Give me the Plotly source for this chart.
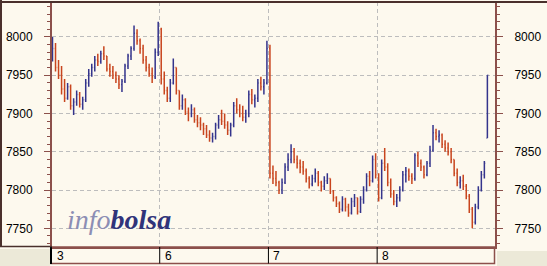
import plotly.graph_objects as go

# ---- data (index values, 36 bars per trading day + closing auction bar) ----
day_labels = ["3", "6", "7", "8"]
bars_per_day = 36

opens = [
    7975, 7985, 7960, 7950, 7932, 7920, 7935, 7910, 7915, 7925, 7912, 7918, 7940, 7952, 7960, 7970, 7968, 7978,
    7975, 7958, 7955, 7950, 7945, 7938, 7942, 7962, 7975, 7985, 8005, 7995, 7985, 7970, 7960, 7952, 7948, 7980,
    8010, 7945, 7930, 7920, 7940, 7960, 7930, 7910, 7918, 7902, 7900, 7905, 7892, 7888, 7885, 7880, 7872, 7868,
    7870, 7885, 7892, 7890, 7885, 7878, 7885, 7910, 7905, 7900, 7895, 7900, 7925, 7918, 7920, 7940, 7935, 7940,
    7985, 7822, 7815, 7810, 7800, 7810, 7830, 7840, 7850, 7840, 7835, 7830, 7825, 7815, 7808, 7815, 7822, 7810,
    7805, 7812, 7815, 7798, 7790, 7782, 7775, 7788, 7778, 7770, 7785, 7790, 7772, 7788, 7800, 7818, 7812, 7840,
    7820, 7790, 7835, 7830, 7810, 7795, 7785, 7790, 7800, 7820, 7825, 7818, 7815, 7845, 7835, 7830, 7820, 7835,
    7852, 7875, 7870, 7872, 7860, 7855, 7850, 7840, 7822, 7810, 7812, 7805, 7792, 7775, 7758, 7778, 7800, 7820,
    7868,
]
highs = [
    8000, 7992, 7970, 7962, 7945, 7940, 7938, 7920, 7930, 7928, 7922, 7945, 7958, 7965, 7975, 7978, 7982, 7988,
    7975, 7965, 7962, 7955, 7950, 7945, 7965, 7978, 7988, 8015, 8010, 7998, 7990, 7975, 7965, 7960, 7985, 8020,
    8012, 7955, 7935, 7945, 7972, 7960, 7930, 7925, 7920, 7908, 7912, 7908, 7898, 7895, 7888, 7885, 7878, 7875,
    7888, 7898, 7905, 7900, 7890, 7888, 7915, 7920, 7912, 7910, 7905, 7930, 7932, 7925, 7945, 7948, 7945, 7995,
    7990, 7832, 7825, 7812, 7815, 7835, 7848, 7860, 7855, 7845, 7840, 7838, 7828, 7818, 7820, 7828, 7825, 7812,
    7818, 7822, 7815, 7800, 7792, 7785, 7792, 7790, 7782, 7790, 7795, 7790, 7792, 7805, 7822, 7825, 7845, 7848,
    7822, 7840, 7855, 7835, 7815, 7800, 7795, 7805, 7825, 7830, 7828, 7822, 7848, 7850, 7840, 7832, 7838, 7858,
    7885, 7880, 7878, 7874, 7865, 7862, 7855, 7840, 7828, 7818, 7820, 7808, 7795, 7778, 7782, 7805, 7825, 7838,
    7950,
]
lows = [
    7968, 7955, 7945, 7925, 7915, 7918, 7905, 7898, 7910, 7908, 7905, 7915, 7935, 7948, 7955, 7962, 7965, 7970,
    7955, 7948, 7945, 7940, 7932, 7928, 7940, 7958, 7970, 7982, 7990, 7978, 7965, 7955, 7948, 7940, 7945, 7975,
    7938, 7925, 7915, 7915, 7938, 7925, 7905, 7905, 7898, 7890, 7895, 7888, 7882, 7878, 7872, 7868, 7863, 7862,
    7866, 7880, 7885, 7880, 7872, 7870, 7882, 7900, 7895, 7890, 7888, 7895, 7912, 7908, 7915, 7930, 7925, 7938,
    7815, 7808, 7805, 7795, 7795, 7808, 7825, 7835, 7835, 7828, 7822, 7820, 7810, 7802, 7805, 7810, 7805, 7798,
    7800, 7808, 7795, 7785, 7778, 7770, 7772, 7772, 7765, 7768, 7778, 7768, 7770, 7782, 7798, 7805, 7810, 7815,
    7785, 7788, 7825, 7805, 7790, 7780, 7778, 7785, 7798, 7810, 7812, 7808, 7812, 7830, 7825, 7815, 7818, 7830,
    7850, 7865, 7862, 7855, 7850, 7845, 7835, 7818, 7805, 7802, 7800, 7788, 7770, 7750, 7755, 7775, 7798, 7815,
    7868,
]
closes = [
    7985, 7960, 7950, 7932, 7920, 7935, 7910, 7915, 7925, 7912, 7918, 7940, 7952, 7960, 7970, 7968, 7978, 7975,
    7958, 7955, 7950, 7945, 7938, 7942, 7962, 7975, 7985, 8005, 7995, 7985, 7970, 7960, 7952, 7948, 7980, 8010,
    7945, 7930, 7920, 7940, 7960, 7930, 7910, 7918, 7902, 7900, 7905, 7892, 7888, 7885, 7880, 7872, 7868, 7870,
    7885, 7892, 7890, 7885, 7878, 7885, 7910, 7905, 7900, 7895, 7900, 7925, 7918, 7920, 7940, 7935, 7940, 7985,
    7822, 7815, 7810, 7800, 7810, 7830, 7840, 7850, 7840, 7835, 7830, 7825, 7815, 7808, 7815, 7822, 7810, 7805,
    7812, 7815, 7798, 7790, 7782, 7775, 7788, 7778, 7770, 7785, 7790, 7772, 7788, 7800, 7818, 7812, 7840, 7820,
    7790, 7835, 7830, 7810, 7795, 7785, 7790, 7800, 7820, 7825, 7818, 7815, 7845, 7835, 7830, 7820, 7835, 7852,
    7875, 7870, 7872, 7860, 7855, 7850, 7840, 7822, 7810, 7812, 7805, 7792, 7775, 7758, 7778, 7800, 7820, 7835,
    7950,
]
y_ticks = [7750, 7800, 7850, 7900, 7950, 8000]

# ---- style ----
W, H = 547, 266
ML, MR, MT, MB = 52, 52, 2, 19
PW, PH = W - ML - MR, H - MT - MB
CREAM = "#FDF9EE"
BROWN = "#8C504B"
DARK = "#4A302C"
GRAYBOX = "#ECE9D8"
BLUE = "#34348C"
RED = "#C8451E"
GRID = "#BDBDBD"


def px_x(p):
    return (p - ML) / PW


def px_y(p):
    return (H - MB - p) / PH


x_idx = list(range(len(closes)))
n_days = len(day_labels)
x_lo = -0.166
x_hi = x_lo + PW / 3.02
y_lo, y_hi = 7725.6, 8045.7
boundaries = [k * bars_per_day - 0.5 for k in range(1, n_days)]

fig = go.Figure()
fig.add_trace(go.Ohlc(
    x=x_idx, open=opens, high=highs, low=lows, close=closes,
    increasing=dict(line=dict(color=BLUE, width=1.5)),
    decreasing=dict(line=dict(color=RED, width=1.5)),
    tickwidth=0.3, showlegend=False, hoverinfo="skip",
))
fig.add_trace(go.Scatter(x=[x_lo], y=[y_lo], yaxis="y2", mode="markers",
                         marker=dict(opacity=0), showlegend=False, hoverinfo="skip"))

axis_font = dict(family="Liberation Sans, Arial", size=12, color="#000000")
common_y = dict(
    range=[y_lo, y_hi], tickvals=y_ticks, ticks="outside", ticklen=6, tickwidth=1,
    tickcolor=BROWN, showline=True, linecolor=BROWN, linewidth=2, zeroline=False,
    tickfont=axis_font, ticklabelstandoff=9,
    minor=dict(dtick=10, tick0=7750, ticks="outside", ticklen=3, tickcolor=BROWN, showgrid=False),
)

shapes = [
    # bottom day strip
    dict(type="rect", xref="paper", yref="paper", x0=px_x(51), x1=px_x(494.5), y0=px_y(247), y1=px_y(263.5),
         fillcolor=CREAM, line=dict(color=BROWN, width=1.5), layer="below"),
    dict(type="line", xref="paper", yref="paper", x0=px_x(51), x1=px_x(51), y0=px_y(247), y1=px_y(264),
         line=dict(color="#000000", width=2)),
    # grey corner boxes
    dict(type="rect", xref="paper", yref="paper", x0=px_x(0), x1=px_x(50), y0=px_y(249), y1=px_y(266),
         fillcolor=GRAYBOX, line=dict(width=0)),
    dict(type="rect", xref="paper", yref="paper", x0=px_x(497), x1=px_x(547), y0=px_y(251), y1=px_y(266),
         fillcolor=GRAYBOX, line=dict(width=0)),
    # outer frame
    dict(type="line", xref="paper", yref="paper", x0=px_x(0), x1=px_x(547), y0=px_y(2), y1=px_y(2),
         line=dict(color=DARK, width=2)),
    dict(type="line", xref="paper", yref="paper", x0=px_x(1), x1=px_x(1), y0=px_y(0), y1=px_y(247),
         line=dict(color=DARK, width=2)),
    dict(type="line", xref="paper", yref="paper", x0=px_x(0), x1=px_x(52), y0=px_y(246.5), y1=px_y(246.5),
         line=dict(color=DARK, width=1.5)),
]
for b in boundaries:
    shapes.append(dict(type="line", xref="x", yref="paper", x0=b, x1=b, y0=px_y(247), y1=px_y(263.5),
                       line=dict(color="#000000", width=1)))

annotations = []
for k, lab in enumerate(day_labels):
    annotations.append(dict(
        x=k * bars_per_day - 0.5 if k else x_lo, xref="x", y=px_y(255.5), yref="paper",
        text=lab, showarrow=False, xanchor="left", yanchor="middle", xshift=3,
        font=dict(family="Liberation Sans, Arial", size=12, color="#000000"),
    ))
annotations.append(dict(
    x=px_x(119), y=px_y(219), xref="paper", yref="paper", showarrow=False,
    xanchor="center", yanchor="middle",
    text='<span style="color:#8C8EB4"><i>info</i></span><span style="color:#30337A"><b><i>bolsa</i></b></span>',
    font=dict(family="Liberation Serif, Times New Roman", size=28),
))

fig.update_layout(
    width=W, height=H, margin=dict(l=ML, r=MR, t=MT, b=MB, pad=0),
    paper_bgcolor=CREAM, plot_bgcolor=CREAM,
    xaxis=dict(range=[x_lo, x_hi], tickvals=boundaries, showticklabels=False, ticks="",
               showgrid=True, gridcolor=GRID, griddash="4px,3px", gridwidth=1,
               showline=True, linecolor=BROWN, linewidth=2, zeroline=False,
               rangeslider=dict(visible=False), fixedrange=True),
    yaxis=dict(side="left", showgrid=True, gridcolor=GRID, griddash="4px,3px", gridwidth=1, **common_y),
    yaxis2=dict(side="right", overlaying="y", showgrid=False, **common_y),
    shapes=shapes, annotations=annotations, showlegend=False,
)

fig.write_html("out.html", config={"displayModeBar": False})
